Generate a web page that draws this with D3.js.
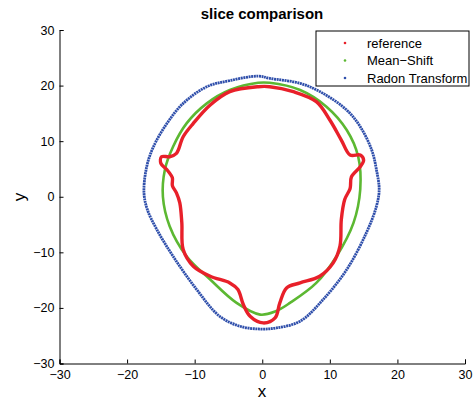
<!DOCTYPE html>
<html>
<head>
<meta charset="utf-8">
<script src="https://cdn.jsdelivr.net/npm/d3@7"></script>
<style>
  body { margin: 0; background: #fff; }
  svg { font-family: "Liberation Sans", Arial, sans-serif; }
</style>
</head>
<body>
<svg id="chart" width="474" height="400"></svg>
<script>
// contour points, [x, y]
const reference = [
  [-0.6, 19.8], [-4.8, 18.9], [-7.7, 16.5], [-10.2, 13.2], [-11.7, 10.8], [-12.7, 7.8],
  [-13.7, 7.2], [-14.9, 7.2], [-15.0, 6.0], [-14.1, 4.85], [-13.3, 3.4], [-13.3, 2.0],
  [-12.7, 0.7], [-12.2, -1.1], [-11.9, -4.7], [-11.7, -9.5], [-10.2, -12.5], [-7.7, -14.3],
  [-4.8, -15.5], [-3.6, -16.7], [-2.8, -19.4], [-1.8, -21.5], [0.15, -22.7], [1.9, -21.8],
  [2.6, -19.1], [3.6, -16.4], [5.6, -15.5], [8.5, -14.3], [10.5, -11.9], [11.5, -8.9],
  [11.7, -4.1], [12.2, -0.5], [13.0, 1.5], [13.2, 3.6], [14.5, 5.4], [15.0, 6.6],
  [14.5, 7.5], [13.0, 7.5], [11.7, 10.2], [10.0, 13.8], [8.0, 17.1], [4.6, 18.9], [1.1, 19.8]
];
const meanShift = [
  [-0.6, 20.5], [-4.8, 19.2], [-8.2, 16.8], [-11.2, 13.2], [-13.2, 9.0], [-14.4, 4.9],
  [-14.7, 0.0], [-13.7, -5.3], [-11.2, -10.7], [-7.7, -14.9], [-3.8, -19.1], [-0.3, -21.2],
  [2.0, -20.6], [4.1, -19.1], [8.0, -15.5], [11.0, -10.7], [13.5, -4.7], [14.5, 1.3],
  [14.2, 7.2], [12.5, 12.0], [9.5, 16.2], [5.6, 19.2], [1.1, 20.5]
];
const radon = [
  [-0.6, 21.7], [-4.8, 20.9], [-8.2, 19.8], [-11.7, 16.8], [-14.1, 13.2], [-16.1, 9.0],
  [-17.1, 5.4], [-17.5, 0.7], [-17.0, -2.3], [-15.6, -5.9], [-13.2, -10.7], [-9.7, -16.7],
  [-6.3, -21.5], [-3.3, -23.3], [-0.3, -23.8], [2.1, -23.6], [5.6, -22.4], [9.0, -18.5],
  [12.5, -13.1], [15.4, -6.5], [16.9, -1.7], [17.3, 1.3], [16.9, 4.85], [16.2, 8.4],
  [14.5, 12.6], [12.5, 15.6], [9.0, 18.6], [5.6, 20.4], [1.1, 21.3]
];
const xTicks = [-30, -20, -10, 0, 10, 20, 30];
const yTicks = [-30, -20, -10, 0, 10, 20, 30];
const seriesNames = ["reference", "Mean\u2212Shift", "Radon Transform"];
const seriesColors = ["#e8202a", "#5cb832", "#2f4fab"];

const svg = d3.select("#chart");
const mLeft = 59.5, mRight = 465, mTop = 30, mBottom = 363.5;

const x = d3.scaleLinear().domain([-30, 30]).range([mLeft, mRight]);
const y = d3.scaleLinear().domain([-30, 30]).range([mBottom, mTop]);

const fmt = d => d < 0 ? "\u2212" + Math.abs(d) : String(d);

// axes (ticks pointing inward, like matlab)
const xAxis = svg.append("g").attr("transform", `translate(0,${mBottom})`)
  .call(d3.axisBottom(x).tickValues(xTicks).tickSize(-4).tickPadding(5).tickFormat(fmt));
const yAxis = svg.append("g").attr("transform", `translate(${mLeft},0)`)
  .call(d3.axisLeft(y).tickValues(yTicks).tickSize(-4).tickPadding(5).tickFormat(fmt));
[xAxis, yAxis].forEach(a => {
  a.selectAll("path").attr("stroke", "#000").attr("stroke-width", 1);
  a.selectAll("line").attr("stroke", "#000");
  a.selectAll("text").attr("font-size", 12.5).attr("fill", "#000")
    .attr("font-family", "'Liberation Sans', Arial, sans-serif");
});
xAxis.selectAll("text").attr("dy", "0.85em");

const smooth = d3.line().x(d => x(d[0])).y(d => y(d[1])).curve(d3.curveCatmullRomClosed.alpha(0.5));

const plot = svg.append("g");
plot.append("path").datum(radon).attr("d", smooth)
  .attr("fill", "none").attr("stroke", seriesColors[2]).attr("stroke-width", 2.8)
  .attr("stroke-dasharray", "2 0.6");
plot.append("path").datum(meanShift).attr("d", smooth)
  .attr("fill", "none").attr("stroke", seriesColors[1]).attr("stroke-width", 2.6);
plot.append("path").datum(reference).attr("d", smooth)
  .attr("fill", "none").attr("stroke", seriesColors[0]).attr("stroke-width", 3.4);

// title and labels
svg.append("text").attr("x", 262).attr("y", 19).attr("text-anchor", "middle")
  .attr("font-size", 15).attr("font-weight", "bold").text("slice comparison");
svg.append("text").attr("x", 262).attr("y", 397).attr("text-anchor", "middle")
  .attr("font-size", 17).text("x");
svg.append("text").attr("transform", "translate(25,197) rotate(-90)").attr("text-anchor", "middle")
  .attr("font-size", 17).text("y");

// legend
const legend = svg.append("g").attr("transform", "translate(316,31)");
legend.append("rect").attr("width", 153).attr("height", 55)
  .attr("fill", "#fff").attr("stroke", "#000").attr("stroke-width", 1);
seriesNames.forEach((name, i) => {
  const row = legend.append("g").attr("transform", `translate(0,${12 + i * 17.5})`);
  row.append("circle").attr("cx", 29).attr("cy", 0).attr("r", 1.3).attr("fill", seriesColors[i]);
  row.append("text").attr("x", 51).attr("y", 4.5).attr("font-size", 13).text(name);
});
</script>
</body>
</html>
